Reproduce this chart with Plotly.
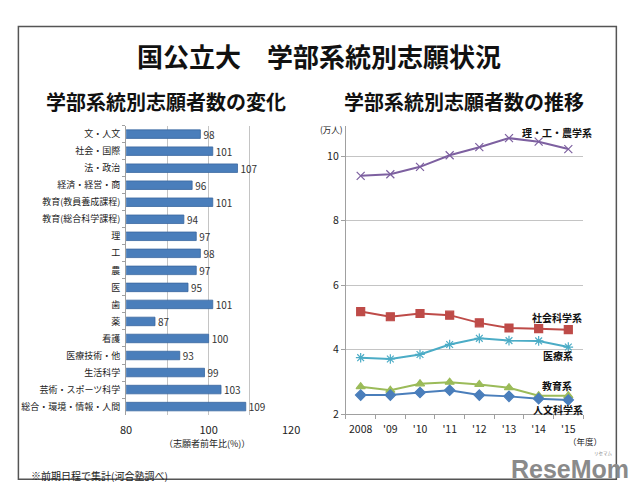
import plotly.graph_objects as go

W, H = 640, 499

# ---- data: left bar chart ----
categories = ["文・人文", "社会・国際", "法・政治", "経済・経営・商", "教育(教員養成課程)",
              "教育(総合科学課程)", "理", "工", "農", "医", "歯", "薬", "看護",
              "医療技術・他", "生活科学", "芸術・スポーツ科学", "総合・環境・情報・人間"]
ratios = [98, 101, 107, 96, 101, 94, 97, 98, 97, 95, 101, 87, 100, 93, 99, 103, 109]

# ---- data: right line chart ----
years = ["2008", "'09", "'10", "'11", "'12", "'13", "'14", "'15"]
sci_eng_agr = [9.39, 9.44, 9.67, 10.03, 10.28, 10.56, 10.45, 10.22]
social_sci = [5.18, 5.02, 5.12, 5.07, 4.83, 4.67, 4.65, 4.62]
medical = [3.75, 3.71, 3.85, 4.16, 4.35, 4.28, 4.27, 4.08]
education = [2.85, 2.74, 2.94, 2.99, 2.92, 2.82, 2.57, 2.57]
humanities = [2.59, 2.59, 2.67, 2.74, 2.59, 2.55, 2.48, 2.44]

series = [
    ("理・工・農学系", sci_eng_agr, "#7D60A0", "x-thin", 8),
    ("社会科学系", social_sci, "#BE4B48", "square", 8),
    ("医療系", medical, "#4BACC6", "asterisk", 8),
    ("教育系", education, "#9BBB59", "triangle-up", 8),
    ("人文科学系", humanities, "#4A7EBB", "diamond", 8),
]
series_label_pos = [(564, 134), (564, 322), (565, 361), (564, 391), (565, 415)]

FONT = "Noto Sans CJK JP, Noto Sans, sans-serif"
TXT = "#222222"
GRID = "#c4c4c4"


def px(x):
    return x / W


def py(y):
    return 1 - y / H


fig = go.Figure()

fig.add_trace(go.Bar(
    x=ratios, y=categories, orientation="h",
    marker=dict(color="#4A7EBB", line=dict(color="#3A67A0", width=0.8)),
    text=[str(v) for v in ratios], textposition="outside", constraintext="none",
    textfont=dict(size=10, color="#333333", family=FONT),
    cliponaxis=False, xaxis="x", yaxis="y", showlegend=False,
))

for name, vals, color, sym, size in series:
    mline = dict(color=color, width=1.2)
    fig.add_trace(go.Scatter(
        x=years, y=vals, mode="lines+markers", name=name,
        line=dict(color=color, width=2),
        marker=dict(symbol=sym, size=size, color=color, line=mline),
        xaxis="x2", yaxis="y2", showlegend=False,
    ))

fig.update_layout(
    width=W, height=H,
    margin=dict(l=0, r=0, t=0, b=0),
    paper_bgcolor="white", plot_bgcolor="white",
    font=dict(family=FONT, color=TXT),
    bargap=0.5,
    uniformtext=dict(minsize=10, mode="show"),
    xaxis=dict(domain=[px(123), px(292)], range=[80, 120], tickvals=[80, 100, 120],
               showgrid=True, gridcolor=GRID, gridwidth=1,
               minor=dict(dtick=10, showgrid=True, gridcolor=GRID),
               zeroline=False, showline=False, ticks="", ticklabelstandoff=7,
               tickfont=dict(size=11, color=TXT), anchor="y"),
    yaxis=dict(domain=[py(421), py(127.4)], autorange="reversed", type="category",
               showline=True, linecolor="#a0a0a0", linewidth=1, ticklabelstandoff=3,
               ticks="outside", tickson="boundaries", ticklen=3, tickcolor="#a0a0a0",
               tickfont=dict(size=9, color=TXT), anchor="x", showgrid=False),
    xaxis2=dict(domain=[px(348), px(591)], type="category", range=[-0.5, 7.5],
                showline=True, linecolor="#a0a0a0", linewidth=1, tickangle=0,
                ticks="outside", tickson="boundaries", ticklen=4, tickcolor="#a0a0a0",
                ticklabelstandoff=5,
                showgrid=False, tickfont=dict(size=10.5, color=TXT), anchor="y2"),
    yaxis2=dict(domain=[py(420), py(128)], range=[2, 10.93], tickvals=[2, 4, 6, 8, 10],
                showline=True, linecolor="#a0a0a0", linewidth=1,
                ticks="outside", ticklen=4, tickcolor="#a0a0a0",
                showgrid=True, gridcolor=GRID, zeroline=False,
                tickfont=dict(size=10.5, color=TXT), anchor="x2"),
)

ann = []


def text(x, y, s, size, bold=False, color=TXT, xanchor="center", family=FONT, dy=0):
    y = y + dy
    ann.append(dict(x=px(x), y=py(y), xref="paper", yref="paper", text=(f"<b>{s}</b>" if bold else s),
                    showarrow=False, xanchor=xanchor, yanchor="middle",
                    font=dict(size=size, color=color, family=family)))


text(320, 56, "国公立大　学部系統別志願状況", 26, bold=True, color="#111111")
text(164, 103, "学部系統別志願者数の変化", 20, bold=True, color="#111111")
text(469, 103, "学部系統別志願者数の推移", 20, bold=True, color="#111111")
text(206, 450, "（志願者前年比(%)）", 9)
text(333, 131, "(万人)", 8.5)
text(593, 447, "（年度）", 8.5)
text(24, 482, "※前期日程で集計(河合塾調べ)", 10, xanchor="left")
for (name, *_), (lx, ly) in zip(series, series_label_pos):
    text(lx, ly, name, 10, bold=True, color="#111111")
text(578, 476, "ReseMom", 25, bold=True, color="#8a8a8a",
     family="Liberation Sans Narrow, Arial Narrow, Liberation Sans, sans-serif")
text(612, 460, "リセマム", 4.5, color="#8a8a8a")

fig.update_layout(annotations=ann)

fig.add_shape(type="rect", xref="paper", yref="paper",
              x0=px(12.7), x1=px(625), y0=py(486), y1=py(27),
              line=dict(color="#555555", width=1.5), layer="below")

fig.write_html("out.html")
